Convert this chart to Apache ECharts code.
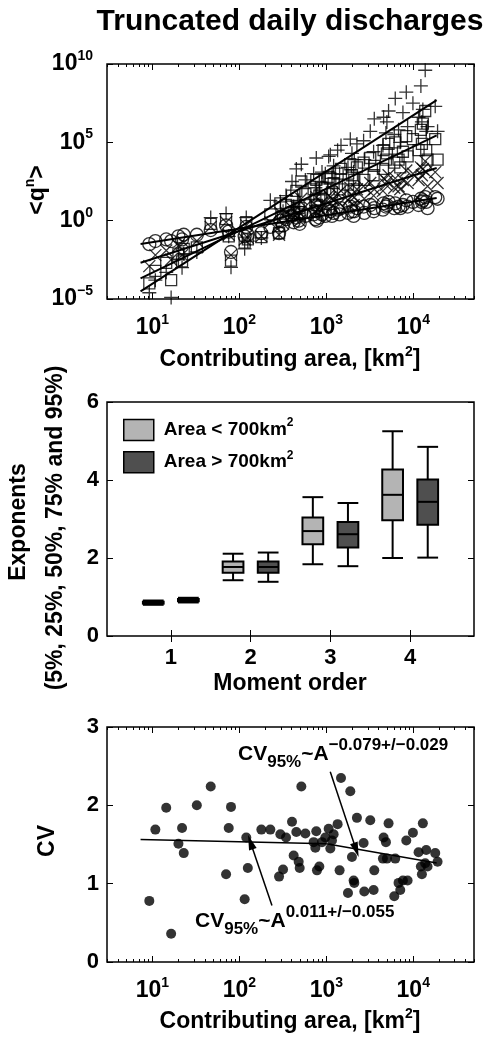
<!DOCTYPE html>
<html>
<head>
<meta charset="utf-8">
<title>Truncated daily discharges</title>
<script src="https://cdn.jsdelivr.net/npm/echarts@6/dist/echarts.min.js"></script>
<style>
  html, body { margin: 0; padding: 0; background: #fff; }
  #chart { width: 489px; height: 1040px; }
</style>
</head>
<body>
<div id="chart"></div>
<script>
// ---- station data -------------------------------------------------------
// Contributing area of each gauging station [km2]
const areaKm2 = [9.2, 10.8, 14.4, 16.4, 19.9, 21.9, 22.9, 32.4, 46.8, 70.3,
  75.4, 80.1, 115, 120, 125, 179, 227, 286, 296, 318,
  344, 403, 421, 452, 481, 494, 516, 574, 715, 748,
  767, 781, 831, 892, 974, 1064, 1112, 1162, 1214, 1349,
  1422, 1475, 1775, 1888, 1973, 2062, 2099, 2250, 2685, 2734,
  3204, 3500, 3563, 4480, 4560, 4853, 4978, 5201, 6051, 6209,
  6778, 7090, 7610, 8317, 8612, 9916, 11515, 12245, 12580, 12900,
  13730, 14100, 14610, 17900, 19050];

// log10 of the truncated moments <q^n>, orders n = 1..4
const logQ1 = [-1.5, -1.3, -1.2, -1.3, -1.0, -1.2, -0.9, -0.9, -0.6, -0.3,
  -0.7, -2.0, -1.0, -0.4, -0.9, -0.8, -0.4, -0.8, 0.0, -0.3,
  0.1, 0.3, -0.1, 0.2, 0.0, -0.2, 0.5, 0.3, 0.4, 0.1,
  0.6, 0.0, 0.2, 0.4, 0.3, 0.7, 0.6, 0.3, 0.5, 0.7,
  0.4, 0.8, 0.5, 0.9, 0.6, 0.3, 0.6, 0.8, 0.9, 0.5,
  1.0, 0.6, 0.8, 0.7, 1.1, 0.9, 1.0, 1.2, 0.8, 1.1,
  0.9, 0.8, 1.0, 1.3, 0.9, 1.2, 1.0, 1.4, 1.2, 1.3,
  1.5, 1.2, 0.8, 1.5, 1.4];
const logQ2 = [-2.9, -2.2, -1.9, -2.5, -1.6, -2.2, -1.4, -1.3, -0.4, -0.1,
  -0.9, -2.2, -1.2, -0.3, -1.1, -1.0, -0.1, -0.9, 0.5, -0.2,
  0.5, 0.8, 0.2, 0.9, 0.3, 0.0, 1.4, 0.9, 1.1, 0.6,
  1.5, 0.4, 0.8, 1.1, 1.0, 1.6, 1.5, 0.9, 1.3, 1.7,
  1.1, 1.9, 1.3, 2.1, 1.6, 1.0, 1.5, 2.0, 2.2, 1.4,
  2.4, 1.6, 2.0, 1.9, 2.7, 2.3, 2.5, 2.9, 2.1, 2.7,
  2.2, 2.0, 2.6, 3.2, 2.4, 3.0, 2.6, 3.4, 2.9, 3.3,
  3.8, 3.1, 2.2, 3.1, 2.4];
const logQ3 = [-4.0, -3.2, -2.7, -3.8, -2.1, -2.6, -1.8, -1.7, -0.2, 0.1,
  -1.0, -2.55, -1.4, -0.1, -1.2, -1.05, 0.4, -0.8, 1.1, 0.2,
  1.0, 1.6, 0.5, 1.9, 0.8, 0.4, 2.5, 1.7, 2.0, 1.3,
  2.6, 1.0, 1.6, 2.1, 2.0, 2.8, 2.7, 1.8, 2.4, 3.0,
  2.0, 3.3, 2.3, 3.6, 2.9, 2.0, 2.6, 3.4, 3.7, 2.6,
  4.0, 2.9, 3.5, 3.3, 4.5, 3.9, 4.3, 4.9, 3.7, 5.0,
  3.9, 3.4, 4.4, 5.4, 4.1, 5.2, 4.5, 5.8, 4.9, 6.2,
  7.0, 4.5, 3.9, 5.2, 3.9];
const logQ4 = [-4.6, -3.8, -3.3, -4.9, -2.5, -3.0, -2.1, -2.0, 0.2, 0.45,
  -1.0, -2.98, -1.8, 0.2, -1.3, -1.1, 1.3, -0.7, 1.2, 0.6,
  1.6, 2.5, 0.9, 3.3, 1.3, 0.9, 3.6, 2.6, 3.0, 2.1,
  4.0, 1.7, 2.5, 3.1, 3.0, 4.1, 4.2, 2.7, 3.5, 4.5,
  3.0, 4.8, 3.4, 5.2, 4.3, 3.1, 3.9, 4.9, 5.1, 3.9,
  5.7, 4.4, 6.5, 4.8, 6.6, 5.6, 6.3, 7.0, 5.5, 7.8,
  5.8, 5.0, 6.9, 8.2, 6.0, 7.5, 6.6, 8.6, 6.3, 7.1,
  9.6, 5.7, 6.0, 7.3, 5.7];

// Power-law fits of <q^n> against area: end points (area, log10 value)
const fitArea = [7.3, 18600];
const fitLogQ1 = [-1.49, 1.45];
const fitLogQ2 = [-2.69, 3.36];
const fitLogQ3 = [-3.68, 5.45];
const fitLogQ4 = [-4.51, 7.69];

// Scaling exponents by moment order: 5%, 25%, 50%, 75%, 95% percentiles
const momentOrder = [1, 2, 3, 4];
const expSmallBasins = [
  [0.80, 0.83, 0.855, 0.88, 0.91],
  [1.43, 1.62, 1.77, 1.91, 2.11],
  [1.84, 2.35, 2.69, 3.04, 3.56],
  [2.00, 2.97, 3.62, 4.27, 5.25]];
const expLargeBasins = [
  [0.86, 0.89, 0.92, 0.95, 0.98],
  [1.39, 1.62, 1.77, 1.91, 2.14],
  [1.79, 2.27, 2.61, 2.92, 3.41],
  [2.01, 2.85, 3.44, 4.01, 4.85]];
const groupNames = ['Area < 700km2', 'Area > 700km2'];

// Coefficient of variation of the 95% truncated series
const cv95 = [0.78, 1.69, 1.97, 0.36, 1.51, 1.71, 1.39, 2.00, 2.24, 1.12,
  1.71, 1.98, 0.80, 1.59, 1.20, 1.69, 1.69, 1.09, 1.63, 1.18,
  1.59, 1.79, 1.36, 1.66, 1.28, 1.20, 2.24, 1.64, 1.53, 1.46,
  1.67, 1.17, 1.22, 1.53, 1.59, 1.70, 1.45, 1.55, 1.63, 1.76,
  1.17, 2.35, 0.88, 2.18, 1.34, 1.04, 1.01, 1.84, 1.52, 0.90,
  1.81, 0.92, 1.17, 1.32, 1.59, 1.53, 1.32, 1.77, 0.84, 1.32,
  1.01, 0.92, 1.04, 1.55, 1.04, 1.65, 1.40, 1.22, 1.12, 1.77,
  1.26, 1.43, 1.22, 1.39, 1.28];
// CV fits for small and large basins
const cvFitSmallArea = [7.3, 1000];
const cvFitSmall = [1.565, 1.51];
const cvFitLargeArea = [1000, 18600];
const cvFitLarge = [1.51, 1.265];
// Arrows from the fit labels to the fitted lines: [area, cv] start and end
const arrowLarge = [[1110, 2.43], [2210, 1.43]];
const arrowSmall = [[237, 0.72], [134, 1.53]];

// Axis ticks
const logXMajor = [10, 100, 1000, 10000];
const logYMajor = [1e-5, 1, 1e5, 1e10];

// ---- styling helpers ----------------------------------------------------
const FONT = '"Liberation Sans", Arial, Helvetica, sans-serif';
const tickFont = { fontFamily: FONT, fontWeight: 'bold', color: '#000' };

const powRich = {
  b: { fontFamily: FONT, fontWeight: 'bold', fontSize: 23, lineHeight: 30, color: '#000' },
  s: { fontFamily: FONT, fontWeight: 'bold', fontSize: 14, lineHeight: 12, color: '#000', verticalAlign: 'top' }
};
function powLabel(v) {
  const e = Math.round(Math.log10(v));
  return '{b|10}{s|' + (e < 0 ? '\u2212' + (-e) : e) + '}';
}

function minorLogTicks(lo, hi) {
  const out = [];
  for (let e = 0; e <= 5; e++) {
    for (let k = 2; k <= 9; k++) {
      const v = k * Math.pow(10, e);
      if (v >= lo && v <= hi) out.push(v);
    }
  }
  return out;
}
const X_MIN = 3, X_MAX = 50000;
const logXMinor = minorLogTicks(X_MIN, X_MAX);

function tickOnly(values, len) {
  return { show: true, inside: true, length: len, lineStyle: { color: '#000', width: 1 }, customValues: values };
}

function logXAxes(gridIndex) {
  const base = { type: 'log', gridIndex, min: X_MIN, max: X_MAX, axisLine: { show: false }, splitLine: { show: false } };
  return [
    Object.assign({}, base, {
      position: 'bottom',
      axisTick: tickOnly(logXMajor, 6),
      axisLabel: { show: true, margin: 14, customValues: logXMajor, formatter: powLabel, rich: powRich }
    }),
    Object.assign({}, base, { position: 'bottom', axisTick: tickOnly(logXMinor, 3), axisLabel: { show: false } }),
    Object.assign({}, base, { position: 'top', axisTick: tickOnly(logXMajor, 6), axisLabel: { show: false } }),
    Object.assign({}, base, { position: 'top', axisTick: tickOnly(logXMinor, 3), axisLabel: { show: false } })
  ];
}

// ---- boxplot drawing ----------------------------------------------------
function boxRenderer(offset, fill) {
  return function (params, api) {
    const x = api.value(0) + offset;
    const hw = 0.13;
    const p = [1, 2, 3, 4, 5].map(i => api.value(i));
    const c = (xx, yy) => api.coord([xx, yy]);
    const st = { stroke: '#000', lineWidth: 2 };
    const seg = (a, b) => ({ type: 'line', shape: { x1: a[0], y1: a[1], x2: b[0], y2: b[1] }, style: st });
    const tl = c(x - hw, p[3]);
    const br = c(x + hw, p[1]);
    return {
      type: 'group',
      children: [
        seg(c(x, p[0]), c(x, p[1])),
        seg(c(x, p[3]), c(x, p[4])),
        seg(c(x - hw, p[0]), c(x + hw, p[0])),
        seg(c(x - hw, p[4]), c(x + hw, p[4])),
        { type: 'rect', shape: { x: tl[0], y: tl[1], width: br[0] - tl[0], height: br[1] - tl[1] },
          style: { fill: fill, stroke: '#000', lineWidth: 2 } },
        seg(c(x - hw, p[2]), c(x + hw, p[2]))
      ]
    };
  };
}

// ---- series builders ----------------------------------------------------
function logPoints(logs) {
  return areaKm2.map((a, i) => [a, Math.pow(10, logs[i])]);
}
function fitLine(logs) {
  return fitArea.map((a, i) => [a, Math.pow(10, logs[i])]);
}
const hollow = { color: 'rgba(0,0,0,0)', borderColor: '#000', borderWidth: 1.3 };
const lineStyleFit = { color: '#000', width: 2 };

const LIGHT = '#b4b4b4';
const DARK = '#4f4f4f';

const series = [
  { type: 'scatter', name: 'n=1', xAxisIndex: 0, yAxisIndex: 0, data: logPoints(logQ1),
    symbol: 'circle', symbolSize: 13, itemStyle: hollow },
  { type: 'scatter', name: 'n=2', xAxisIndex: 0, yAxisIndex: 0, data: logPoints(logQ2),
    symbol: 'path://M0,0L10,10M10,0L0,10', symbolSize: 12, itemStyle: hollow },
  { type: 'scatter', name: 'n=3', xAxisIndex: 0, yAxisIndex: 0, data: logPoints(logQ3),
    symbol: 'rect', symbolSize: 11, itemStyle: hollow },
  { type: 'scatter', name: 'n=4', xAxisIndex: 0, yAxisIndex: 0, data: logPoints(logQ4),
    symbol: 'path://M5,0L5,10M0,5L10,5', symbolSize: 14, itemStyle: hollow },
  ...[fitLogQ1, fitLogQ2, fitLogQ3, fitLogQ4].map(f => ({
    type: 'line', xAxisIndex: 0, yAxisIndex: 0, data: fitLine(f), symbol: 'none',
    lineStyle: lineStyleFit, silent: true
  })),
  { type: 'custom', name: groupNames[0], xAxisIndex: 4, yAxisIndex: 2,
    data: momentOrder.map((m, i) => [m].concat(expSmallBasins[i])),
    renderItem: boxRenderer(-0.22, LIGHT), itemStyle: { color: LIGHT } },
  { type: 'custom', name: groupNames[1], xAxisIndex: 4, yAxisIndex: 2,
    data: momentOrder.map((m, i) => [m].concat(expLargeBasins[i])),
    renderItem: boxRenderer(0.22, DARK), itemStyle: { color: DARK } },
  { type: 'scatter', xAxisIndex: 6, yAxisIndex: 4, data: areaKm2.map((a, i) => [a, cv95[i]]),
    symbol: 'circle', symbolSize: 10, itemStyle: { color: '#000' } },
  { type: 'line', xAxisIndex: 6, yAxisIndex: 4, data: cvFitSmallArea.map((a, i) => [a, cvFitSmall[i]]),
    symbol: 'none', lineStyle: { color: '#000', width: 1.5 }, silent: true },
  { type: 'line', xAxisIndex: 6, yAxisIndex: 4, data: cvFitLargeArea.map((a, i) => [a, cvFitLarge[i]]),
    symbol: 'none', lineStyle: { color: '#000', width: 1.5 }, silent: true,
    markLine: {
      silent: true, animation: false,
      symbol: ['none', 'triangle'],
      lineStyle: { color: '#000', width: 1.5, type: 'solid' },
      itemStyle: { color: '#000' },
      label: { show: false },
      data: [arrowLarge, arrowSmall].map(a => [
        { coord: a[0], symbol: 'none' },
        { coord: a[1], symbol: 'triangle', symbolSize: [8, 15] }
      ])
    } }
];

// ---- text: titles and annotations ---------------------------------------
const txtRich = {
  b: { fontFamily: FONT, fontWeight: 'bold', fontSize: 23, lineHeight: 30, fill: '#000', color: '#000' },
  s: { fontFamily: FONT, fontWeight: 'bold', fontSize: 14, lineHeight: 12, fill: '#000', color: '#000', verticalAlign: 'top' }
};
function textEl(x, y, text, opts) {
  opts = opts || {};
  return {
    type: 'text', x: x, y: y, rotation: opts.rotation || 0, silent: true,
    style: {
      text: text, rich: opts.rich, fill: '#000',
      font: opts.font || ('bold 23px ' + FONT),
      align: opts.align || 'center', verticalAlign: 'middle',
      textAlign: opts.align || 'center', textVerticalAlign: 'middle',
      lineHeight: opts.lineHeight
    }
  };
}
const annRich = {
  m: { fontFamily: FONT, fontWeight: 'bold', fontSize: 21, lineHeight: 34, fill: '#000', color: '#000' },
  sup: { fontFamily: FONT, fontWeight: 'bold', fontSize: 17, lineHeight: 20, fill: '#000', color: '#000', verticalAlign: 'top' },
  sub: { fontFamily: FONT, fontWeight: 'bold', fontSize: 17, lineHeight: 12, fill: '#000', color: '#000', verticalAlign: 'bottom' }
};

const graphic = [
  textEl(290, 22, 'Truncated daily discharges', { font: 'bold 30px ' + FONT }),
  textEl(38, 190, '{b|<q}{s|n}{b|>}', { rich: txtRich, rotation: Math.PI / 2 }),
  textEl(290, 360, '{b|Contributing area, [km}{s|2}{b|]}', { rich: txtRich }),
  textEl(19, 522, 'Exponents', { rotation: Math.PI / 2 }),
  textEl(56, 528, '(5%, 25%, 50%, 75% and 95%)', { rotation: Math.PI / 2 }),
  textEl(290, 684, 'Moment order'),
  textEl(48, 841, 'CV', { rotation: Math.PI / 2 }),
  textEl(290, 1022, '{b|Contributing area, [km}{s|2}{b|]}', { rich: txtRich }),
  textEl(238, 754, '{m|CV}{sub|95%}{m|~A}{sup|\u22120.079+/\u22120.029}', { rich: annRich, align: 'left' }),
  textEl(195, 921, '{m|CV}{sub|95%}{m|~A}{sup|0.011+/\u22120.055}', { rich: annRich, align: 'left' })
];

// ---- chart ----------------------------------------------------------------
const gridBox = { left: 107, width: 367, show: true, borderColor: '#000', borderWidth: 1.5, containLabel: false };

const option = {
  animation: false,
  backgroundColor: '#fff',
  grid: [
    Object.assign({}, gridBox, { top: 64, height: 235 }),
    Object.assign({}, gridBox, { top: 402, height: 234 }),
    Object.assign({}, gridBox, { top: 727, height: 235 })
  ],
  xAxis: [
    ...logXAxes(0),
    { type: 'value', gridIndex: 1, position: 'bottom', min: 0.2, max: 4.8,
      axisLine: { show: false }, splitLine: { show: false },
      axisTick: tickOnly(momentOrder, 6),
      axisLabel: Object.assign({ margin: 10, fontSize: 22, lineHeight: 24, customValues: momentOrder }, tickFont) },
    { type: 'value', gridIndex: 1, position: 'top', min: 0.2, max: 4.8,
      axisLine: { show: false }, splitLine: { show: false },
      axisTick: tickOnly(momentOrder, 6), axisLabel: { show: false } },
    ...logXAxes(2)
  ],
  yAxis: [
    { type: 'log', gridIndex: 0, position: 'left', min: 1e-5, max: 1e10,
      axisLine: { show: false }, splitLine: { show: false },
      axisTick: tickOnly(logYMajor, 6),
      axisLabel: { margin: 14, customValues: logYMajor, formatter: powLabel, rich: powRich } },
    { type: 'log', gridIndex: 0, position: 'right', min: 1e-5, max: 1e10,
      axisLine: { show: false }, splitLine: { show: false },
      axisTick: tickOnly(logYMajor, 6), axisLabel: { show: false } },
    { type: 'value', gridIndex: 1, position: 'left', min: 0, max: 6, interval: 2,
      axisLine: { show: false }, splitLine: { show: false },
      axisTick: { show: true, inside: true, length: 6, lineStyle: { color: '#000' } },
      axisLabel: Object.assign({ margin: 8, fontSize: 22 }, tickFont) },
    { type: 'value', gridIndex: 1, position: 'right', min: 0, max: 6, interval: 2,
      axisLine: { show: false }, splitLine: { show: false },
      axisTick: { show: true, inside: true, length: 6, lineStyle: { color: '#000' } },
      axisLabel: { show: false } },
    { type: 'value', gridIndex: 2, position: 'left', min: 0, max: 3, interval: 1,
      axisLine: { show: false }, splitLine: { show: false },
      axisTick: { show: true, inside: true, length: 6, lineStyle: { color: '#000' } },
      axisLabel: Object.assign({ margin: 8, fontSize: 22 }, tickFont) },
    { type: 'value', gridIndex: 2, position: 'right', min: 0, max: 3, interval: 1,
      axisLine: { show: false }, splitLine: { show: false },
      axisTick: { show: true, inside: true, length: 6, lineStyle: { color: '#000' } },
      axisLabel: { show: false } }
  ],
  legend: {
    show: true,
    data: groupNames.map((n, i) => ({ name: n, icon: 'rect',
      itemStyle: { color: i === 0 ? LIGHT : DARK, borderColor: '#000', borderWidth: 1.5 } })),
    left: 123, top: 417, orient: 'vertical', padding: 0,
    itemWidth: 30, itemHeight: 21, itemGap: 8,
    selectedMode: false,
    formatter: n => '{t|' + n.replace(/2$/, '') + '}{s|2}',
    textStyle: {
      padding: [0, 0, 0, 5],
      rich: {
        t: { fontFamily: FONT, fontWeight: 'bold', fontSize: 19, lineHeight: 26, color: '#000' },
        s: { fontFamily: FONT, fontWeight: 'bold', fontSize: 12, lineHeight: 10, color: '#000', verticalAlign: 'top' }
      }
    }
  },
  graphic: graphic,
  series: series
};

const chart = echarts.init(document.getElementById('chart'), null, { renderer: 'canvas' });
chart.setOption(option);
</script>
</body>
</html>
